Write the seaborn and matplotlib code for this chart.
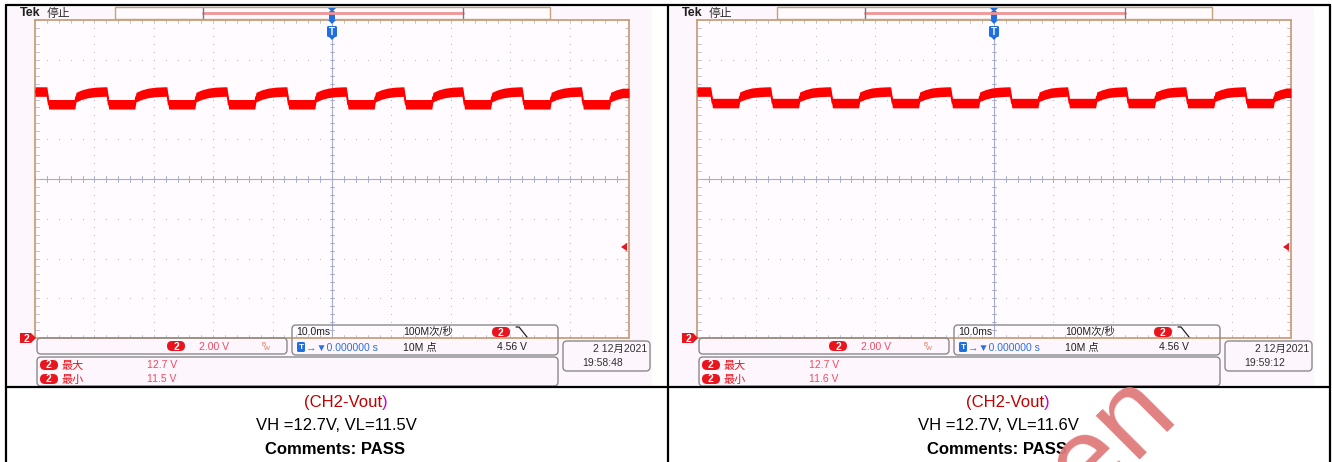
import numpy as np
import matplotlib
matplotlib.use("Agg")
import matplotlib.pyplot as plt
from matplotlib.patches import FancyBboxPatch, Rectangle, Polygon
import seaborn as sns

# falling edge times (ms) of the CH2 ripple, one list per capture
fall_left = [-48.0, -37.9, -27.8, -17.7, -7.6, 2.4, 12.1, 22.0, 32.0, 42.0]
fall_right = [-47.7, -37.6, -27.5, -17.4, -7.3, 2.7, 12.4, 22.3, 32.3, 42.3]

# one ripple cycle, time after the falling edge (ms) and trace centre (V)
cycle_t = [0.0, 0.3, 4.7, 4.9, 5.8, 6.9, 8.2, 9.6]
cycle_v_left = [12.40, 11.76, 11.76, 12.12, 12.24, 12.33, 12.38, 12.40]
cycle_v_right = [12.40, 11.82, 11.82, 12.14, 12.25, 12.34, 12.38, 12.40]
band_half = 0.24  # half thickness of the noisy trace (V)

vmax_txt = ["12.7 V", "12.7 V"]
vmin_txt = ["11.5 V", "11.6 V"]
clock_txt = ["19:58:48", "19:59:12"]
date_txt = "2 12月2021"
caption_vh = ["VH =12.7V, VL=11.5V", "VH =12.7V, VL=11.6V"]

# ----------- Style -----------

sns.set_style("white")
plt.rcParams['font.family'] = ['Liberation Sans', 'Noto Sans CJK SC', 'DejaVu Sans']

W, H = 1332, 462
fig = plt.figure(figsize=(W / 100, H / 100), dpi=100)
fig.patch.set_facecolor("white")

bg = fig.add_axes([0, 0, 1, 1], zorder=0)
bg.set_xlim(0, W)
bg.set_ylim(H, 0)
bg.axis("off")

ov = fig.add_axes([0, 0, 1, 1], zorder=3)
ov.set_xlim(0, W)
ov.set_ylim(H, 0)
ov.axis("off")
ov.patch.set_alpha(0)

TAN = "#c8a07a"
RED = "#e8141e"
PINK_TXT = "#f04a62"
GREY_BOX = "#8a8a8a"


def rbox(x0, y0, x1, y1, r=4, ec=GREY_BOX, fc="none", lw=1.0):
    ov.add_patch(FancyBboxPatch((x0, y0), x1 - x0, y1 - y0,
                                boxstyle=f"round,pad=0,rounding_size={r}",
                                ec=ec, fc=fc, lw=lw))


def badge(xc, yc, w=18, h=10, txt="2"):
    ov.add_patch(FancyBboxPatch((xc - w / 2, yc - h / 2), w, h,
                                boxstyle=f"round,pad=0,rounding_size={h / 2}",
                                ec="none", fc=RED))
    ov.text(xc, yc + 0.5, txt, color="white", fontsize=7.5, fontweight="bold",
            ha="center", va="center")


def tbadge(x0, y0, w, h, fs):
    ov.add_patch(FancyBboxPatch((x0, y0), w, h,
                                boxstyle="round,pad=0,rounding_size=1.5",
                                ec="none", fc="#1f6fe0"))
    ov.text(x0 + w / 2, y0 + h / 2 + 0.5, "T", color="white", fontsize=fs,
            fontweight="bold", ha="center", va="center")


def build_trace(falls, cycle_v):
    # repeat the read cycle at each read falling edge, cut at the next edge
    t_all = [-50.0]
    v_all = [cycle_v[-1]]
    ends = falls[1:] + [50.0]
    for f, nxt in zip(falls, ends):
        for c, v in zip(cycle_t, cycle_v):
            if f + c < nxt:
                t_all.append(f + c)
                v_all.append(v)
        if nxt == 50.0:
            t_all.append(50.0)
            v_all.append(v_all[-1])
    return np.array(t_all), np.array(v_all)


def panel(k, falls, cycle_v):
    dx = 662 * k
    # scope screen background
    bg.add_patch(Rectangle((8 + dx, 7), 644, 379, fc="#fdf6fc", ec="none"))

    # graticule axes, data coordinates: ms and volts (ground at bottom)
    gx0, gx1, gy0, gy1 = 35 + dx, 629 + dx, 20, 338
    ax = fig.add_axes([gx0 / W, 1 - gy1 / H, (gx1 - gx0) / W, (gy1 - gy0) / H], zorder=1)
    ax.set_facecolor("#fffbfe")
    ax.set_xticks([])
    ax.set_yticks([])
    for s in ax.spines.values():
        s.set_color(TAN)
        s.set_linewidth(1.3)

    # dotted grid
    for gx in range(-40, 50, 10):
        if gx != 0:
            ax.scatter([gx] * 41, np.linspace(0, 16, 41), s=0.6, color="#b0b0c0", lw=0)
    for gy in range(2, 16, 2):
        if gy != 8:
            ax.scatter(np.linspace(-50, 50, 51), [gy] * 51, s=0.6, color="#b0b0c0", lw=0)
    # centre cross with minor ticks
    ax.axvline(0, color="#a4acd0", lw=0.8)
    ax.axhline(8, color="#a4acd0", lw=0.8)
    for tx in np.linspace(-50, 50, 51):
        ax.plot([tx, tx], [7.85, 8.15], color="#a4acd0", lw=0.7)
        ax.plot([tx, tx], [0, 0.15], color="#b8b8c8", lw=0.6)
        ax.plot([tx, tx], [15.85, 16], color="#b8b8c8", lw=0.6)
    for ty in np.linspace(0, 16, 41):
        ax.plot([-0.35, 0.35], [ty, ty], color="#a4acd0", lw=0.7)
        ax.plot([-50, -49.4], [ty, ty], color="#b8b8c8", lw=0.6)
        ax.plot([49.4, 50], [ty, ty], color="#b8b8c8", lw=0.6)

    t_all, v_all = build_trace(falls, cycle_v)
    ax.fill_between(t_all, v_all - band_half, v_all + band_half, color="#ff0000", lw=0, zorder=5)
    sns.lineplot(x=t_all, y=v_all, ax=ax, color="#ff0000", lw=1.2, zorder=6, sort=False)
    ax.set_xlim(-50, 50)
    ax.set_ylim(0, 16)
    ax.set_xlabel("")
    ax.set_ylabel("")

    # top status line
    ov.text(20 + dx, 13.5, "Tek", fontsize=9, fontweight="bold", va="center", ha="left", color="#202020")
    ov.text(47 + dx, 13.5, "停止", fontsize=8.5, va="center", ha="left", color="#303030")
    ov.add_patch(Rectangle((115 + dx, 7), 435, 12, fc="#fffafe", ec=TAN, lw=1.0))
    ov.plot([203 + dx, 463 + dx], [12.5, 12.5], color="#f29494", lw=2)
    ov.plot([203 + dx, 203 + dx], [8, 18], color="#6a7890", lw=1)
    ov.plot([463 + dx, 463 + dx], [8, 18], color="#6a7890", lw=1)
    ov.add_patch(FancyBboxPatch((329 + dx, 11), 6, 9, boxstyle="round,pad=0,rounding_size=1.5",
                                ec="none", fc="#1f6fe0"))
    ov.add_patch(Polygon([(328 + dx, 8), (336 + dx, 8), (332 + dx, 12)], fc="#1f6fe0", ec="none"))
    ov.add_patch(Polygon([(328 + dx, 20), (336 + dx, 20), (332 + dx, 24)], fc="#1f6fe0", ec="none"))
    tbadge(327 + dx, 26, 10, 11, 7)
    ov.add_patch(Polygon([(329 + dx, 37), (335 + dx, 37), (332 + dx, 40)], fc="#1f6fe0", ec="none"))

    # ground marker and trigger level arrow
    ov.add_patch(Polygon([(20 + dx, 333), (31 + dx, 333), (36 + dx, 338), (31 + dx, 343), (20 + dx, 343)],
                         fc=RED, ec="none"))
    ov.text(26 + dx, 338.5, "2", color="white", fontsize=7.5, fontweight="bold", ha="center", va="center")
    ov.add_patch(Polygon([(621 + dx, 247), (627 + dx, 243), (627 + dx, 251)], fc=RED, ec="none"))

    # readout boxes
    rbox(37 + dx, 338, 287 + dx, 354)
    badge(176 + dx, 346)
    ov.text(199 + dx, 346.5, "2.00 V", color=PINK_TXT, fontsize=7.5, va="center", ha="left")
    ov.text(261 + dx, 344, "B", color="#e07050", fontsize=4.5, va="center", ha="left")
    ov.text(264 + dx, 348, "W", color="#e07050", fontsize=4.5, va="center", ha="left")

    rbox(292 + dx, 325, 558 + dx, 355)
    ov.text(296 + dx, 332, "10.0ms", color="#202020", fontsize=7.5, va="center", ha="left")
    ov.text(403 + dx, 332, "100M次/秒", color="#202020", fontsize=7.5, va="center", ha="left")
    badge(501 + dx, 332)
    ov.plot([516 + dx, 519 + dx, 527 + dx], [327, 327, 337], color="#202020", lw=0.9)
    tbadge(297 + dx, 342, 8, 10, 6)
    ov.text(306 + dx, 347.5, "→▼0.000000 s", color="#2c70e0", fontsize=7.5, va="center", ha="left")
    ov.text(403 + dx, 347.5, "10M 点", color="#202020", fontsize=7.5, va="center", ha="left")
    ov.text(497 + dx, 347.5, "4.56 V", color="#202020", fontsize=7.5, va="center", ha="left")

    rbox(37 + dx, 357, 558 + dx, 386)
    badge(49 + dx, 365)
    ov.text(62 + dx, 365.5, "最大", color=RED, fontsize=8, va="center", ha="left")
    ov.text(147 + dx, 365.5, vmax_txt[k], color=PINK_TXT, fontsize=7.5, va="center", ha="left")
    badge(49 + dx, 379)
    ov.text(62 + dx, 379.5, "最小", color=RED, fontsize=8, va="center", ha="left")
    ov.text(147 + dx, 379.5, vmin_txt[k], color=PINK_TXT, fontsize=7.5, va="center", ha="left")

    rbox(563 + dx, 341, 650 + dx, 371)
    ov.text(647 + dx, 348.5, date_txt, color="#303030", fontsize=7.5, va="center", ha="right")
    ov.text(582 + dx, 362.5, clock_txt[k], color="#303030", fontsize=7.5, va="center", ha="left")

    # caption cell
    cx = 335 + dx
    ov.text(cx + 47, 402, "(CH2-Vout", color="#c00000", fontsize=12, va="center", ha="right")
    ov.text(cx + 47, 402, ")", color="#d000d0", fontsize=12, va="center", ha="left")
    ov.text(cx + 1, 425.5, caption_vh[k], color="black", fontsize=12, va="center", ha="center")
    ov.text(cx, 449.5, "Comments: PASS", color="black", fontsize=12, fontweight="bold",
            va="center", ha="center")


panel(0, fall_left, cycle_v_left)
panel(1, fall_right, cycle_v_right)

# table borders
for x in [6, 668, 1330]:
    ov.plot([x, x], [5, H], color="black", lw=1.6)
for y in [5, 387]:
    ov.plot([6, 1330], [y, y], color="black", lw=1.6)

# watermark fragment (clipped by the bottom edge like in the capture)
ov.text(1112, 440, "en", color="#e07a7a", alpha=0.95, fontsize=84, rotation=45,
        ha="center", va="center", zorder=10, clip_on=True)

fig.savefig("out.png", dpi=100)
